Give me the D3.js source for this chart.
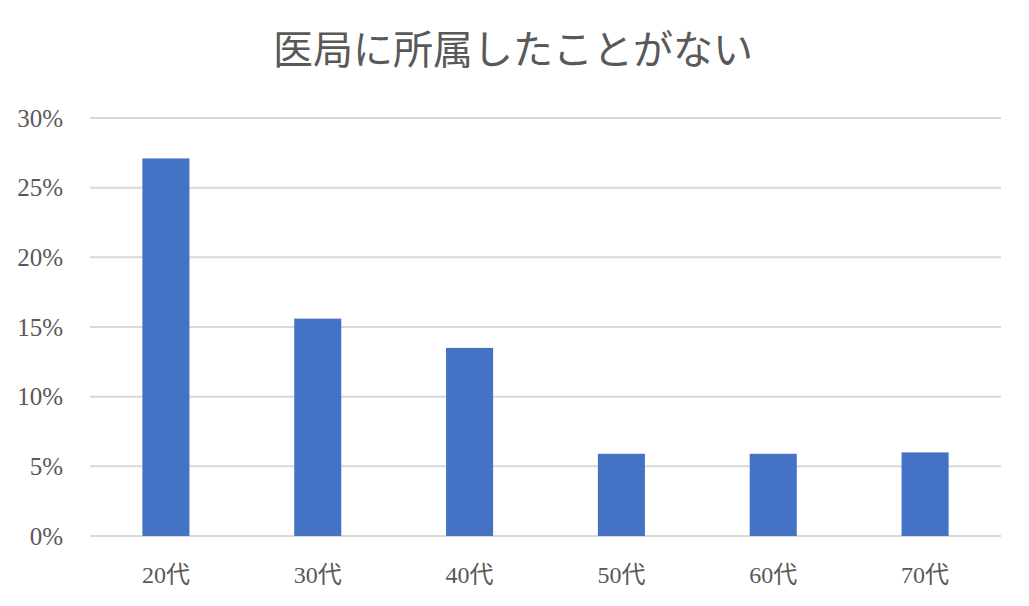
<!DOCTYPE html>
<html>
<head>
<meta charset="utf-8">
<script src="https://cdn.jsdelivr.net/npm/d3@7"></script>
<style>
  body { margin: 0; background: #fff; }
  svg text { font-family: "Liberation Serif", "DejaVu Serif", "Noto Sans CJK JP", serif; fill: #595959; }
</style>
</head>
<body>
<svg id="chart" width="1029" height="606"></svg>
<script>
// chart data
const chartTitle = "医局に所属したことがない";
const ageGroups = ["20代", "30代", "40代", "50代", "60代", "70代"];
const shareValues = [0.271, 0.156, 0.135, 0.059, 0.059, 0.060];
const yTicks = [0, 0.05, 0.10, 0.15, 0.20, 0.25, 0.30];

const width = 1029, height = 606;
const margin = { top: 118, right: 28, bottom: 70, left: 90 };

const svg = d3.select("#chart");

const xScale = d3.scaleBand()
    .domain(ageGroups)
    .range([margin.left, width - margin.right])
    .paddingInner(0.69)
    .paddingOuter(0.345);

const yScale = d3.scaleLinear()
    .domain([0, 0.30])
    .range([height - margin.bottom, margin.top]);

// gridlines
svg.append("g")
    .selectAll("line")
    .data(yTicks)
    .join("line")
        .attr("x1", margin.left)
        .attr("x2", width - margin.right)
        .attr("y1", d => yScale(d))
        .attr("y2", d => yScale(d))
        .attr("stroke", "#d9d9d9")
        .attr("stroke-width", 2);

// y axis labels
svg.append("g")
    .selectAll("text")
    .data(yTicks)
    .join("text")
        .attr("x", 63)
        .attr("y", d => yScale(d))
        .attr("dy", "0.35em")
        .attr("text-anchor", "end")
        .attr("font-size", 25)
        .text(d => d3.format(".0%")(d));

// bars
svg.append("g")
    .selectAll("rect")
    .data(shareValues)
    .join("rect")
        .attr("x", (d, i) => xScale(ageGroups[i]))
        .attr("y", d => yScale(d))
        .attr("width", xScale.bandwidth())
        .attr("height", d => yScale(0) - yScale(d))
        .attr("fill", "#4472c4");

// x axis labels
svg.append("g")
    .selectAll("text")
    .data(ageGroups)
    .join("text")
        .attr("x", d => xScale(d) + xScale.bandwidth() / 2)
        .attr("y", 575)
        .attr("dy", "0.35em")
        .attr("text-anchor", "middle")
        .attr("font-size", 24)
        .text(d => d);

// title
svg.append("text")
    .attr("x", 513)
    .attr("y", 50)
    .attr("dy", "0.35em")
    .attr("text-anchor", "middle")
    .attr("font-size", 40)
    .text(chartTitle);
</script>
</body>
</html>
